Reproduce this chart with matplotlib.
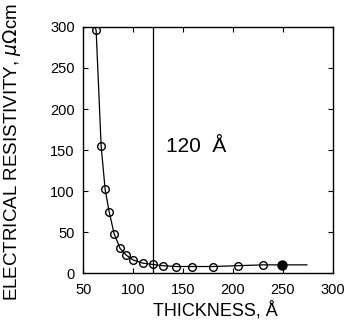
import numpy as np
import matplotlib
matplotlib.use("Agg")
import matplotlib.pyplot as plt

# measured points
thickness = [63, 68, 72, 76, 81, 87, 93, 100, 110, 120, 130, 143, 159, 180, 205, 230]
resistivity = [296, 155, 102, 75, 48, 30, 22, 16, 12, 10.5, 9, 8, 8, 8, 9, 10]
# filled point
thick_fill = [249]
res_fill = [10]
# guide curve
curve_x = [62, 63, 68, 72, 76, 81, 87, 93, 100, 110, 120, 130, 143, 159, 180, 205, 230, 249, 274]
curve_y = [300, 296, 155, 102, 75, 48, 30, 22, 16, 12, 10.5, 9, 8, 8, 8, 9, 10, 10, 10]

critical = 120

plt.rcParams['font.family'] = ['Liberation Sans', 'DejaVu Sans']

fig = plt.figure(figsize=(3.45, 3.29), dpi=100)
ax = fig.add_axes([0.241, 0.170, 0.724, 0.748])

ax.plot(curve_x, curve_y, color='black', lw=0.9)
ax.plot(thickness, resistivity, 'o', mfc='none', mec='black', ms=5.5, mew=1.0)
ax.plot(thick_fill, res_fill, 'o', color='black', ms=6.5)
ax.axvline(critical, color='black', lw=0.9)
ax.text(133, 154, "120  Å", fontsize=15, ha='left', va='center')

ax.set_xlim(50, 300)
ax.set_ylim(0, 300)
ax.set_xticks([50, 100, 150, 200, 250, 300])
ax.set_yticks([0, 50, 100, 150, 200, 250, 300])
ax.tick_params(direction='in', top=True, right=True, labelsize=10.5, length=3.5)
ax.tick_params(axis='x', pad=7)
ax.tick_params(axis='y', pad=6)
ax.set_xlabel("THICKNESS, Å", fontsize=13)
ax.set_ylabel(r"ELECTRICAL RESISTIVITY, $\mu\Omega$cm", fontsize=13.5)
ax.xaxis.set_label_coords(0.528, -0.115)
ax.yaxis.set_label_coords(-0.24, 0.49)
for s in ax.spines.values():
    s.set_linewidth(1.0)

fig.savefig("out.png", dpi=100)
